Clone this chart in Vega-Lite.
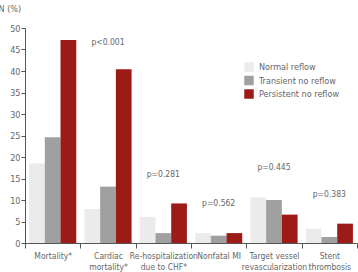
{
  "$schema": "https://vega.github.io/schema/vega-lite/v6.json",
  "width": 332,
  "height": 215,
  "autosize": {"type": "none"},
  "padding": {"left": 25, "top": 28, "right": 1, "bottom": 29},
  "background": "white",
  "config": {
    "font": "DejaVu Sans Condensed",
    "view": {"stroke": null},
    "axis": {
      "domainColor": "#555555",
      "tickColor": "#555555",
      "labelColor": "#666666",
      "titleColor": "#666666",
      "labelFont": "DejaVu Sans Condensed",
      "titleFont": "DejaVu Sans Condensed",
      "grid": false
    }
  },
  "datasets": {
    "bars": [
      {"outcome": "Mortality*", "group": "Normal reflow", "pct": 18.5},
      {"outcome": "Mortality*", "group": "Transient no reflow", "pct": 24.6},
      {"outcome": "Mortality*", "group": "Persistent no reflow", "pct": 47.2},
      {"outcome": "Cardiac|mortality*", "group": "Normal reflow", "pct": 7.9},
      {"outcome": "Cardiac|mortality*", "group": "Transient no reflow", "pct": 13.1},
      {"outcome": "Cardiac|mortality*", "group": "Persistent no reflow", "pct": 40.4},
      {"outcome": "Re-hospitalization|due to CHF*", "group": "Normal reflow", "pct": 6.1},
      {"outcome": "Re-hospitalization|due to CHF*", "group": "Transient no reflow", "pct": 2.3},
      {"outcome": "Re-hospitalization|due to CHF*", "group": "Persistent no reflow", "pct": 9.2},
      {"outcome": "Nonfatal MI", "group": "Normal reflow", "pct": 2.3},
      {"outcome": "Nonfatal MI", "group": "Transient no reflow", "pct": 1.7},
      {"outcome": "Nonfatal MI", "group": "Persistent no reflow", "pct": 2.3},
      {"outcome": "Target vessel|revascularization", "group": "Normal reflow", "pct": 10.6},
      {"outcome": "Target vessel|revascularization", "group": "Transient no reflow", "pct": 10.0},
      {"outcome": "Target vessel|revascularization", "group": "Persistent no reflow", "pct": 6.6},
      {"outcome": "Stent|thrombosis", "group": "Normal reflow", "pct": 3.3},
      {"outcome": "Stent|thrombosis", "group": "Transient no reflow", "pct": 1.4},
      {"outcome": "Stent|thrombosis", "group": "Persistent no reflow", "pct": 4.5}
    ],
    "pvalues": [
      {"outcome": "Cardiac|mortality*", "label": "p<0.001", "pct": 46.8},
      {"outcome": "Re-hospitalization|due to CHF*", "label": "p=0.281", "pct": 16.0},
      {"outcome": "Nonfatal MI", "label": "p=0.562", "pct": 9.2},
      {"outcome": "Target vessel|revascularization", "label": "p=0.445", "pct": 17.6},
      {"outcome": "Stent|thrombosis", "label": "p=0.383", "pct": 11.3}
    ]
  },
  "encoding": {
    "x": {
      "field": "outcome",
      "type": "nominal",
      "sort": null,
      "scale": {"paddingInner": 0, "paddingOuter": 0},
      "axis": {
        "title": null,
        "labelAngle": 0,
        "labelExpr": "split(datum.label, '|')",
        "labelFontSize": 8.5,
        "labelLineHeight": 11,
        "labelPadding": 3,
        "tickBand": "extent",
        "tickSize": 5,
        "labelLimit": 0
      }
    },
    "y": {
      "field": "pct",
      "type": "quantitative",
      "scale": {"domain": [0, 50], "nice": false},
      "axis": {
        "title": "N (%)",
        "titleAngle": 0,
        "titleAlign": "left",
        "titleBaseline": "middle",
        "titleX": -27,
        "titleY": -20,
        "titleFontSize": 9,
        "titleFontWeight": "normal",
        "values": [0, 5, 10, 15, 20, 25, 30, 35, 40, 45, 50],
        "labelOverlap": false,
        "labelFontSize": 9,
        "tickSize": 4,
        "labelPadding": 1
      }
    }
  },
  "layer": [
    {
      "data": {"name": "bars"},
      "mark": {"type": "bar"},
      "encoding": {
        "xOffset": {
          "field": "group",
          "type": "nominal",
          "sort": ["Normal reflow", "Transient no reflow", "Persistent no reflow"],
          "scale": {"paddingInner": 0, "paddingOuter": 0.26}
        },
        "color": {
          "field": "group",
          "type": "nominal",
          "sort": ["Normal reflow", "Transient no reflow", "Persistent no reflow"],
          "scale": {
            "domain": ["Normal reflow", "Transient no reflow", "Persistent no reflow"],
            "range": ["#ebebeb", "#a0a0a0", "#9c1b17"]
          },
          "legend": {
            "title": null,
            "orient": "none",
            "legendX": 219,
            "legendY": 34,
            "symbolType": "square",
            "symbolSize": 90,
            "symbolStrokeWidth": 0,
            "labelFont": "DejaVu Sans Condensed",
            "labelFontSize": 9,
            "labelColor": "#666666",
            "rowPadding": 3.5,
            "labelOffset": 5
          }
        }
      }
    },
    {
      "data": {"name": "pvalues"},
      "mark": {"type": "text", "fontSize": 8.5, "color": "#666666", "align": "center", "baseline": "middle", "font": "DejaVu Sans Condensed"},
      "encoding": {
        "text": {"field": "label"}
      }
    }
  ]
}
